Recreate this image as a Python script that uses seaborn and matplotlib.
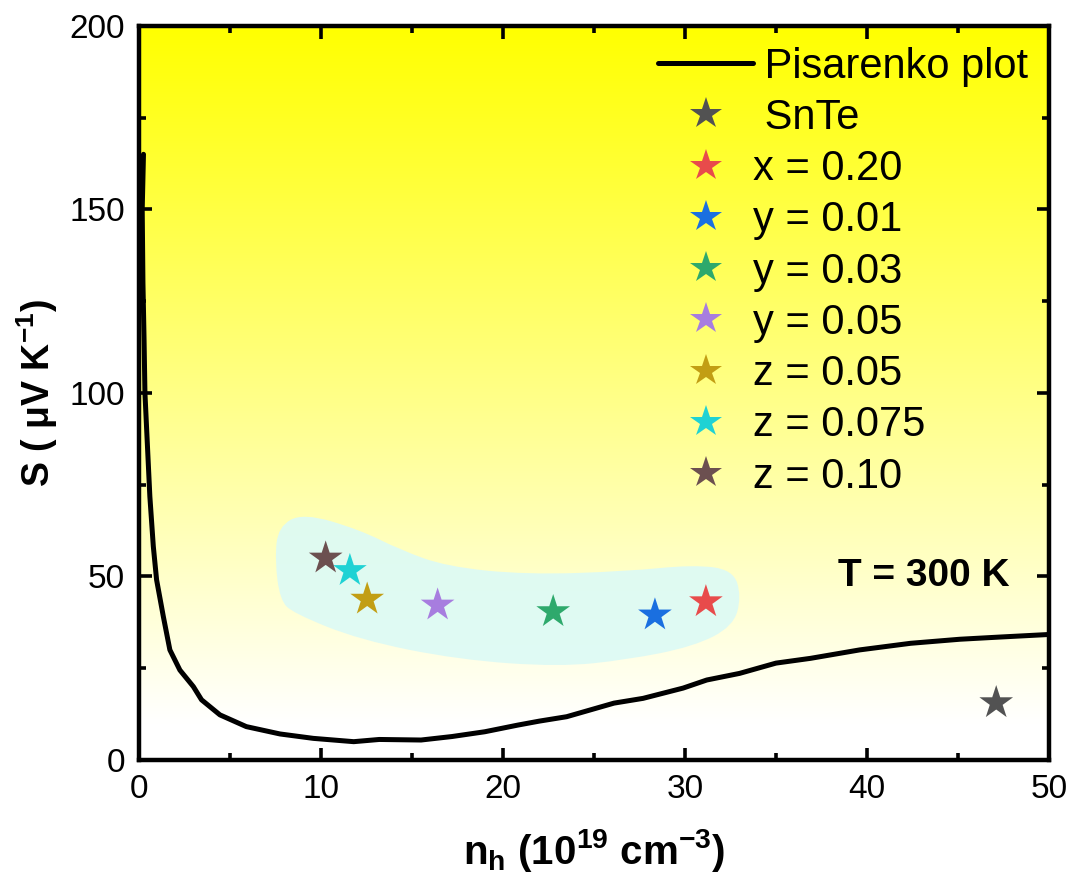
import numpy as np
import pandas as pd
import seaborn as sns
import matplotlib
matplotlib.use("Agg")
import matplotlib.pyplot as plt
from matplotlib.patches import PathPatch
from matplotlib.path import Path
from matplotlib.lines import Line2D
from matplotlib.ticker import MultipleLocator

# Pisarenko curve (carrier concentration in 1e19 cm^-3, Seebeck in uV/K)
pis_n = [0.25, 0.18, 0.22, 0.28, 0.33, 0.42, 0.60, 0.79, 0.97, 1.34, 1.70, 2.25,
         2.99, 3.44, 4.45, 5.90, 7.75, 9.58, 11.8, 13.2, 15.5, 17.2, 19.0, 20.8,
         22.0, 23.5, 26.1, 27.7, 29.9, 31.2, 33.0, 35.0, 36.9, 39.6, 42.4, 45.1,
         47.3, 50.0]
pis_S = [165.0, 150.0, 130.0, 115.0, 100.0, 90.5, 71.8, 58.2, 49.1, 39.1, 30.0,
         24.5, 20.0, 16.4, 12.3, 9.1, 7.1, 5.9, 5.0, 5.6, 5.45, 6.4, 7.7, 9.5,
         10.6, 11.8, 15.5, 16.8, 19.6, 21.8, 23.6, 26.4, 27.7, 30.0, 31.8, 32.9,
         33.5, 34.2]

# Measured samples
samples = ["SnTe", "x = 0.20", "y = 0.01", "y = 0.03", "y = 0.05",
           "z = 0.05", "z = 0.075", "z = 0.10"]
sample_n = [47.1, 31.15, 28.35, 22.76, 16.41, 12.54, 11.59, 10.26]
sample_S = [15.6, 43.1, 39.5, 40.4, 42.2, 43.8, 51.6, 55.0]
sample_colors = ["#525252", "#e84b4b", "#1a6fe0", "#2ea96c", "#a77ddf",
                 "#c29e14", "#1fd2d4", "#6c5050"]

# Highlight region around the doped samples (outline control points)
zone_n = [7.65, 9.03, 12.14, 14.34, 16.9, 21.3, 26.8, 30.46, 32.65, 33.1, 32.65,
          30.46, 26.8, 23.1, 17.6, 12.14, 8.48, 7.75, 7.47]
zone_S = [63.6, 67.3, 62.7, 57.3, 52.7, 50.5, 51.4, 53.2, 51.8, 44.5, 36.4,
          30.9, 27.3, 25.4, 27.3, 32.7, 40.0, 43.6, 54.5]

sns.set_theme(style="ticks")
plt.rcParams["font.family"] = ["Liberation Sans", "DejaVu Sans"]
plt.rcParams["mathtext.fontset"] = "custom"
plt.rcParams["mathtext.rm"] = "Liberation Sans"
plt.rcParams["mathtext.bf"] = "Liberation Sans:bold"
plt.rcParams["mathtext.it"] = "Liberation Sans:italic"
for key in ["text.color", "axes.labelcolor", "xtick.color", "ytick.color",
            "axes.edgecolor"]:
    plt.rcParams[key] = "black"

fig = plt.figure(figsize=(10.77, 8.91), dpi=100)
ax = fig.add_axes([0.129, 0.147, 0.845, 0.824])
ax.set_xlim(0, 50)
ax.set_ylim(0, 200)

# yellow-to-white background gradient
grad = np.linspace(0, 1, 256)[:, None]
grad = np.clip((grad - 0.05) / 0.95, 0, 1)
bg = np.ones((256, 2, 3))
bg[:, :, 2] = 1 - grad
ax.imshow(bg, extent=[0, 50, 0, 200], origin="lower", aspect="auto", zorder=0)

# smooth closed outline: quadratic Bezier segments through edge midpoints
ctrl = np.column_stack([zone_n, zone_S])
mids = (ctrl + np.roll(ctrl, -1, axis=0)) / 2
verts = [mids[-1]]
codes = [Path.MOVETO]
for i in range(len(ctrl)):
    verts += [ctrl[i], mids[i]]
    codes += [Path.CURVE3, Path.CURVE3]
verts.append(mids[-1])
codes.append(Path.CLOSEPOLY)
ax.add_patch(PathPatch(Path(verts, codes), facecolor="#dcfaf6",
                       edgecolor="none", alpha=0.9, zorder=1))

curve = pd.DataFrame({"n": pis_n, "S": pis_S})
sns.lineplot(data=curve, x="n", y="S", sort=False, estimator=None,
             color="black", linewidth=3.6, ax=ax, zorder=3)

pts = pd.DataFrame({"n": sample_n, "S": sample_S, "sample": samples})
palette = dict(zip(samples, sample_colors))
sns.scatterplot(data=pts, x="n", y="S", hue="sample", hue_order=samples,
                palette=palette, marker="*", s=650, linewidth=0,
                legend=False, ax=ax, zorder=4)

handles = [Line2D([], [], color="black", linewidth=3.6)]
labels = [" Pisarenko plot"]
for name, col in zip(samples, sample_colors):
    handles.append(Line2D([], [], linestyle="none", marker="*",
                          markersize=24, markerfacecolor=col,
                          markeredgewidth=0))
    labels.append(" " + name if name == "SnTe" else name)
ax.legend(handles, labels, loc="upper right", bbox_to_anchor=(1.0, 1.0),
          frameon=False, fontsize=30, handlelength=2.28, handletextpad=0.0,
          labelspacing=0.27, borderaxespad=0.0, borderpad=0.5)

ax.text(47.86, 50, "T = 300 K", fontsize=28, fontweight="bold",
        ha="right", va="center", zorder=5)

ax.xaxis.set_major_locator(MultipleLocator(10))
ax.xaxis.set_minor_locator(MultipleLocator(5))
ax.yaxis.set_major_locator(MultipleLocator(50))
ax.yaxis.set_minor_locator(MultipleLocator(25))
ax.tick_params(which="both", direction="in", top=True, right=True,
               width=2.6, labelsize=24, color="black")
ax.tick_params(which="major", length=9, pad=10)
ax.tick_params(which="minor", length=5)
for sp in ax.spines.values():
    sp.set_linewidth(3.2)
    sp.set_color("black")
    sp.set_zorder(6)

ax.set_xlabel("n$_{\\mathbf{h}}$ (10$^{\\mathbf{19}}$ cm$^{\\mathbf{-3}}$)",
              fontsize=29, fontweight="bold", labelpad=16)
ax.set_ylabel("S ( μV K$^{\\mathbf{-1}}$)", fontsize=27, fontweight="bold",
              labelpad=7)

fig.savefig("out.png", dpi=100)
